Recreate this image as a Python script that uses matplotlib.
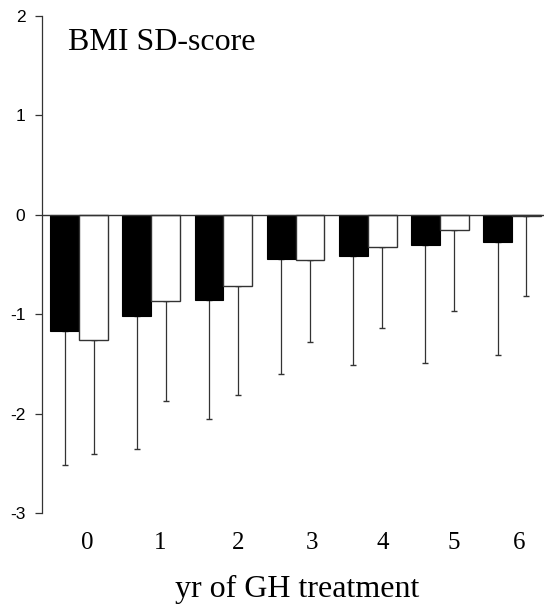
import matplotlib
matplotlib.use("Agg")
import matplotlib.pyplot as plt
import numpy as np

plt.rcParams['axes.unicode_minus'] = False

years = ["0", "1", "2", "3", "4", "5", "6"]
black_mean = [-1.165, -1.02, -0.855, -0.44, -0.41, -0.30, -0.27]
black_sd = [1.35, 1.34, 1.20, 1.16, 1.10, 1.19, 1.14]
white_mean = [-1.26, -0.87, -0.72, -0.45, -0.32, -0.15, -0.01]
white_sd = [1.15, 1.00, 1.09, 0.83, 0.82, 0.82, 0.81]
yticks = [-3, -2, -1, 0, 1, 2]

fig = plt.figure(figsize=(5.44, 6.08), dpi=100)
ax = fig.add_axes([42/544, 0.1563, 502/544, 0.8174])

x = np.arange(len(years))
w = 0.4
edge = "#333333"
ax.bar(x - w/2, black_mean, width=w, color="black", edgecolor="black", linewidth=0.8, zorder=2)
ax.bar(x + w/2, white_mean, width=w, color="white", edgecolor=edge, linewidth=1.0, zorder=2)

ax.errorbar(x - w/2, black_mean, yerr=[black_sd, [0]*len(x)], fmt="none",
            ecolor=edge, elinewidth=0.9, capsize=2, capthick=1.0, zorder=1)
ax.errorbar(x + w/2, white_mean, yerr=[white_sd, [0]*len(x)], fmt="none",
            ecolor=edge, elinewidth=0.9, capsize=2, capthick=1.0, zorder=1)

ax.axhline(0, color=edge, linewidth=1.0, zorder=3)

ax.set_xlim(-0.514, 6.444)
ax.set_ylim(-3, 2)

for s in ["top", "right", "bottom"]:
    ax.spines[s].set_visible(False)
ax.spines["left"].set_color(edge)
ax.spines["left"].set_linewidth(0.9)

ax.set_yticks(yticks)
ax.set_yticklabels([str(v) for v in yticks], fontfamily="Liberation Sans", fontsize=12.5)
ax.tick_params(axis="y", direction="out", length=5, width=0.9, color=edge, pad=7)

label_shift = np.array([8, 9, 15, 16, 15, 14, 7]) / 72.0
ax.set_xticks(x + label_shift)
ax.set_xticklabels(years, fontfamily="Liberation Serif", fontsize=18)
ax.tick_params(axis="x", length=0, pad=14)

ax.set_xlabel("yr of GH treatment", fontfamily="Liberation Serif", fontsize=23)
ax.xaxis.set_label_coords(0.508, -0.169)
ax.xaxis.label.set_va("baseline")

ax.text(0.052, 0.9316, "BMI SD-score", transform=ax.transAxes,
        fontfamily="Liberation Serif", fontsize=23, va="baseline", ha="left")

fig.savefig("out.png", dpi=100)
